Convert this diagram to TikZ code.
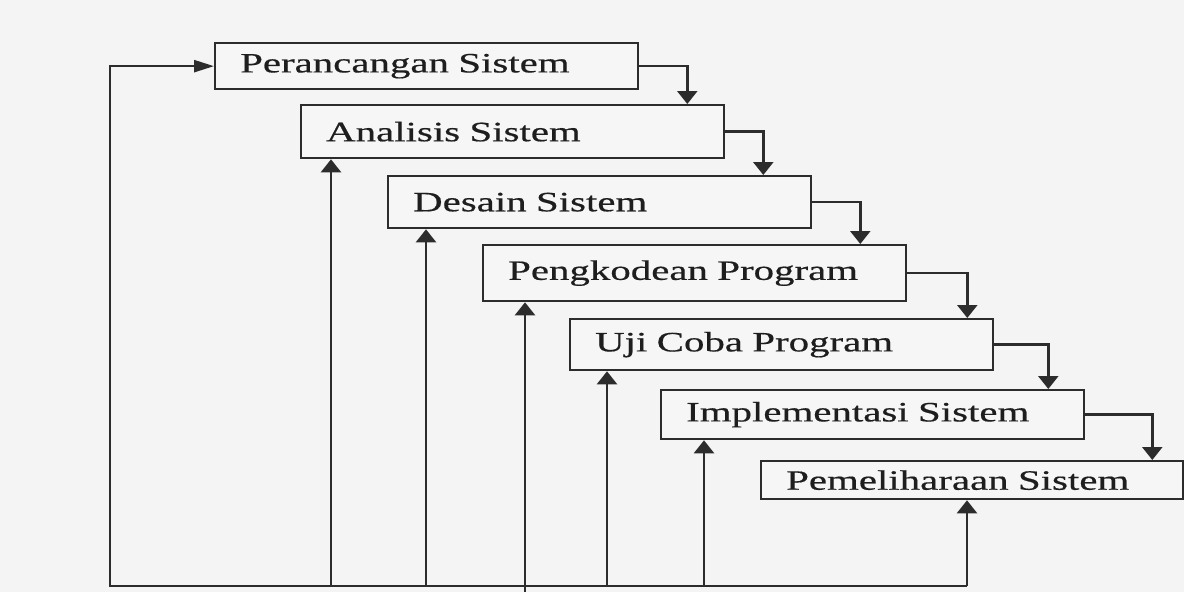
\documentclass[tikz,border=0pt]{standalone}
\usepackage{fontspec}
\usetikzlibrary{arrows.meta}
\newfontfamily\boxfont[FakeStretch=1.46,FakeBold=0.5]{Liberation Serif}
\definecolor{bgc}{HTML}{F4F4F4}
\definecolor{boxc}{HTML}{F6F6F6}
\definecolor{linec}{HTML}{2C2C2C}
\definecolor{textc}{HTML}{1E1E1E}
\begin{document}
\begin{tikzpicture}[x=1pt,y=-1pt,
  stage/.style={draw=linec, line width=2.3pt, fill=boxc, anchor=north west,
    inner xsep=25pt, inner ysep=0pt, text width=373pt, align=left,
    text=textc, font=\boxfont\fontsize{28}{30}\selectfont},
  conn/.style={draw=linec, line width=2.4pt},
  downarr/.style={conn, -{Triangle[width=20pt,length=13pt]}},
  rightarr/.style={conn, -{Triangle[width=12pt,length=20pt]}}]
\fill[bgc] (0,0) rectangle (1184,592);
\useasboundingbox (0,0) rectangle (1184,592);
\node[stage, minimum height=46pt] (b1) at (214,42) {Perancangan Sistem};
\node[stage, minimum height=53pt] (b2) at (300,104) {Analisis Sistem};
\node[stage, minimum height=52pt] (b3) at (387,175) {Desain Sistem};
\node[stage, minimum height=56pt] (b4) at (482,244) {Pengkodean Program};
\node[stage, minimum height=51pt] (b5) at (569,318) {Uji Coba Program};
\node[stage, minimum height=49pt] (b6) at (660,389) {Implementasi Sistem};
\node[stage, minimum height=38pt, text width=372pt] (b7) at (760,460) {Pemeliharaan Sistem};
% step connectors
\draw[downarr] (b1.east) -| ([xshift=-38pt]b2.north east);
\draw[downarr] (b2.east) -| ([xshift=-49pt]b3.north east);
\draw[downarr] (b3.east) -| ([xshift=-47pt]b4.north east);
\draw[downarr] (b4.east) -| ([xshift=-27pt]b5.north east);
\draw[downarr] (b5.east) -| ([xshift=-37pt]b6.north east);
\draw[downarr] (b6.east) -| ([xshift=-32pt]b7.north east);
% feedback lines
\coordinate (bl) at (110,586);
\coordinate (br) at (967,586);
\coordinate (u2) at ([xshift=31pt]b2.south west);
\coordinate (u3) at ([xshift=39pt]b3.south west);
\coordinate (u4) at ([xshift=43pt]b4.south west);
\coordinate (u5) at ([xshift=38pt]b5.south west);
\coordinate (u6) at ([xshift=44pt]b6.south west);
\coordinate (u7) at ([xshift=207pt]b7.south west);
\coordinate (u4b) at (u4 |- 0,592);
\draw[rightarr] (br) -- (bl) |- (b1.west);
\draw[downarr] (br) -- (u7);
\draw[downarr] (u2 |- bl) -- (u2);
\draw[downarr] (u3 |- bl) -- (u3);
\draw[downarr] (u4b) -- (u4);
\draw[downarr] (u5 |- bl) -- (u5);
\draw[downarr] (u6 |- bl) -- (u6);
\end{tikzpicture}
\end{document}
